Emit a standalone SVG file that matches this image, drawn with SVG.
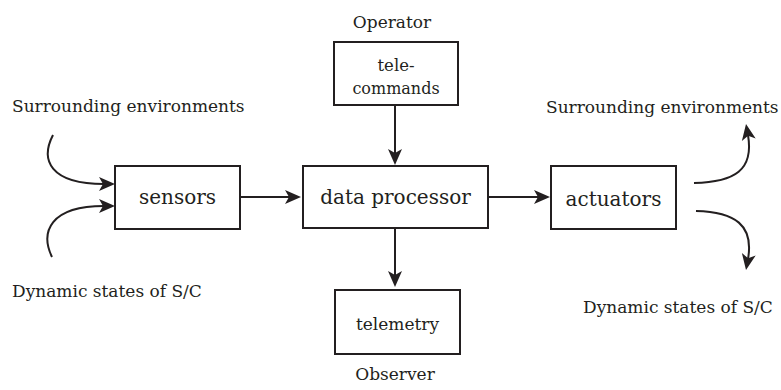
<svg xmlns="http://www.w3.org/2000/svg" width="781" height="390" viewBox="0 0 781 390">
<style>
.box{fill:#fff;stroke:#231f20;stroke-width:2}
.c{stroke:#231f20;stroke-width:2;fill:none}
.ah{fill:#231f20;stroke:none}
</style>
<defs>
<path id="head" class="ah" d="M0,0 L-16,-7 L-12,0 L-16,7 Z"/>
</defs>
<rect width="781" height="390" fill="#fff"/>
<g id="connectors">
<line class="c" x1="240" y1="197" x2="290" y2="197"/>
<use href="#head" transform="translate(301,197)"/>
<line class="c" x1="395" y1="105" x2="395" y2="154"/>
<use href="#head" transform="translate(395,165) rotate(90)"/>
<line class="c" x1="395" y1="228" x2="395" y2="276"/>
<use href="#head" transform="translate(395,287) rotate(90)"/>
<line class="c" x1="488" y1="197" x2="540" y2="197"/>
<use href="#head" transform="translate(550,197)"/>
<path class="c" d="M53,135 C40,160 50,184 104,184"/>
<use href="#head" transform="translate(115,184)"/>
<path class="c" d="M52,257 C40,232 50,206 104,206"/>
<use href="#head" transform="translate(115,206)"/>
<path class="c" d="M694,183 C735,182 754,170 748,135"/>
<use href="#head" transform="translate(746,124) rotate(-100)"/>
<path class="c" d="M696,211 C735,212 754,225 748,259"/>
<use href="#head" transform="translate(746,270) rotate(100)"/>
</g>
<g font-family="DejaVu Serif, serif" fill="#231f20">
<g id="sensors">
<rect class="box" x="115" y="166" width="125" height="63"/>
<text x="177.5" y="204" font-size="20" text-anchor="middle">sensors</text>
</g>
<g id="data-processor">
<rect class="box" x="303" y="166" width="185" height="62"/>
<text x="395.5" y="204" font-size="20" text-anchor="middle">data processor</text>
</g>
<g id="telecommands">
<rect class="box" x="334" y="42" width="124" height="63"/>
<text x="396" y="71" font-size="16.5" text-anchor="middle">tele-</text>
<text x="396" y="94" font-size="16" text-anchor="middle">commands</text>
</g>
<g id="telemetry">
<rect class="box" x="335" y="290" width="125" height="64"/>
<text x="397.5" y="330" font-size="17" text-anchor="middle">telemetry</text>
</g>
<g id="actuators">
<rect class="box" x="551" y="166" width="125" height="63"/>
<text x="613.5" y="206" font-size="20" text-anchor="middle">actuators</text>
</g>
<g id="labels">
<text x="392" y="28" font-size="17" text-anchor="middle">Operator</text>
<text x="395" y="380" font-size="17" text-anchor="middle">Observer</text>
<text x="12" y="112" font-size="17">Surrounding environments</text>
<text x="12" y="297" font-size="17">Dynamic states of S/C</text>
<text x="546" y="113" font-size="17">Surrounding environments</text>
<text x="583" y="313" font-size="17">Dynamic states of S/C</text>
</g>
</g>
</svg>
